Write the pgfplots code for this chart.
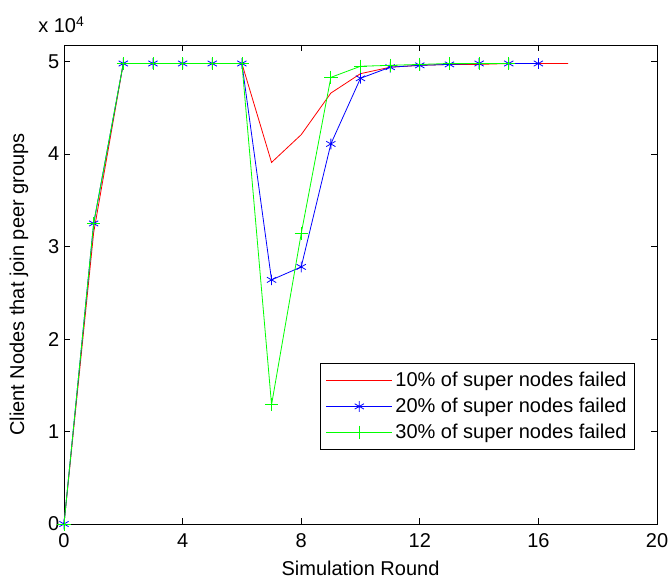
\documentclass[border=0pt]{standalone}
\usepackage{pgfplots}
\pgfplotsset{compat=1.18}
\usepackage{fontspec}
\setmainfont{Liberation Sans}
\definecolor{mred}{rgb}{1,0,0}
\definecolor{mblue}{rgb}{0,0,1}
\definecolor{mgreen}{rgb}{0,1,0}

\begin{document}
\begin{tikzpicture}
  \begin{axis}[
      name=ax,
      scale only axis,
      width=444.75pt,
      height=359.25pt,
      xmin=0, xmax=20,
      ymin=0, ymax=5.18,
      xtick={0,4,8,12,16,20},
      ytick={0,1,2,3,4,5},
      scaled ticks=false,
      tick align=inside,
      major tick length=4.5pt,
      tick style={black, line width=0.6pt},
      axis line style={black, line width=0.6pt},
      /pgf/number format/assume math mode=true,
      font=\fontsize{15}{18}\selectfont,
      xticklabel style={yshift=-3.5pt},
      xlabel={Simulation Round},
      ylabel={Client Nodes that join peer groups},
      xlabel style={at={(axis description cs:0.5,-0.108)}, anchor=base},
      ylabel style={at={(axis description cs:-0.076,0.5)}, anchor=center},
      clip=false,
      legend cell align=left,
      legend style={
          at={(0.963,0.154)},
          anchor=south east,
          draw=black,
          line width=0.6pt,
          fill=white,
          font=\fontsize{15}{18}\selectfont,
          row sep=3pt,
          inner xsep=4pt,
          inner ysep=5pt,
        },
      legend image code/.code={
          \draw[#1, mark=none] (0cm,0cm) -- (1.74cm,0cm);
          \draw[#1, only marks] plot coordinates {(0.87cm,0cm)};
        },
    ]

    % 10% failed
    \addplot[color=mred, line width=0.6pt, no markers] coordinates {
        (0,0) (1,3.15) (2,4.98) (3,4.98) (4,4.98) (5,4.98) (6,4.98)
        (7,3.91) (8,4.21) (9,4.66) (10,4.87) (11,4.94) (12,4.96)
        (13,4.97) (14,4.97) (15,4.98) (16,4.98) (17,4.98)
      };
    \addlegendentry{10\% of super nodes failed}

    % 20% failed
    \addplot[color=mblue, line width=0.6pt, mark=asterisk, mark size=4pt,
      mark options={line width=0.6pt}] coordinates {
        (0,0) (1,3.25) (2,4.98) (3,4.98) (4,4.98) (5,4.98) (6,4.98)
        (7,2.64) (8,2.78) (9,4.11) (10,4.82) (11,4.94) (12,4.96)
        (13,4.97) (14,4.98) (15,4.98) (16,4.98)
      };
    \addlegendentry{20\% of super nodes failed}

    % 30% failed
    \addplot[color=mgreen, line width=0.6pt, mark=+, mark size=5pt,
      mark options={line width=0.6pt}] coordinates {
        (0,0) (1,3.25) (2,4.98) (3,4.98) (4,4.98) (5,4.98) (6,4.98)
        (7,1.29) (8,3.14) (9,4.83) (10,4.95) (11,4.96) (12,4.97)
        (13,4.98) (14,4.98) (15,4.98)
      };
    \addlegendentry{30\% of super nodes failed}

    \node[anchor=base west, inner sep=0pt] at (rel axis cs:0,1)
    [xshift=-19.5pt, yshift=9pt] {x 10\textsuperscript{4}};
  \end{axis}
  % page the same size round the axis as the reference
  \pgfresetboundingbox
  \path (ax.south west) ++(-48pt,-42.75pt) coordinate (bl);
  \path (ax.north east) ++(9.75pt,33.75pt) coordinate (tr);
  \useasboundingbox (bl) rectangle (tr);
\end{tikzpicture}
\end{document}
